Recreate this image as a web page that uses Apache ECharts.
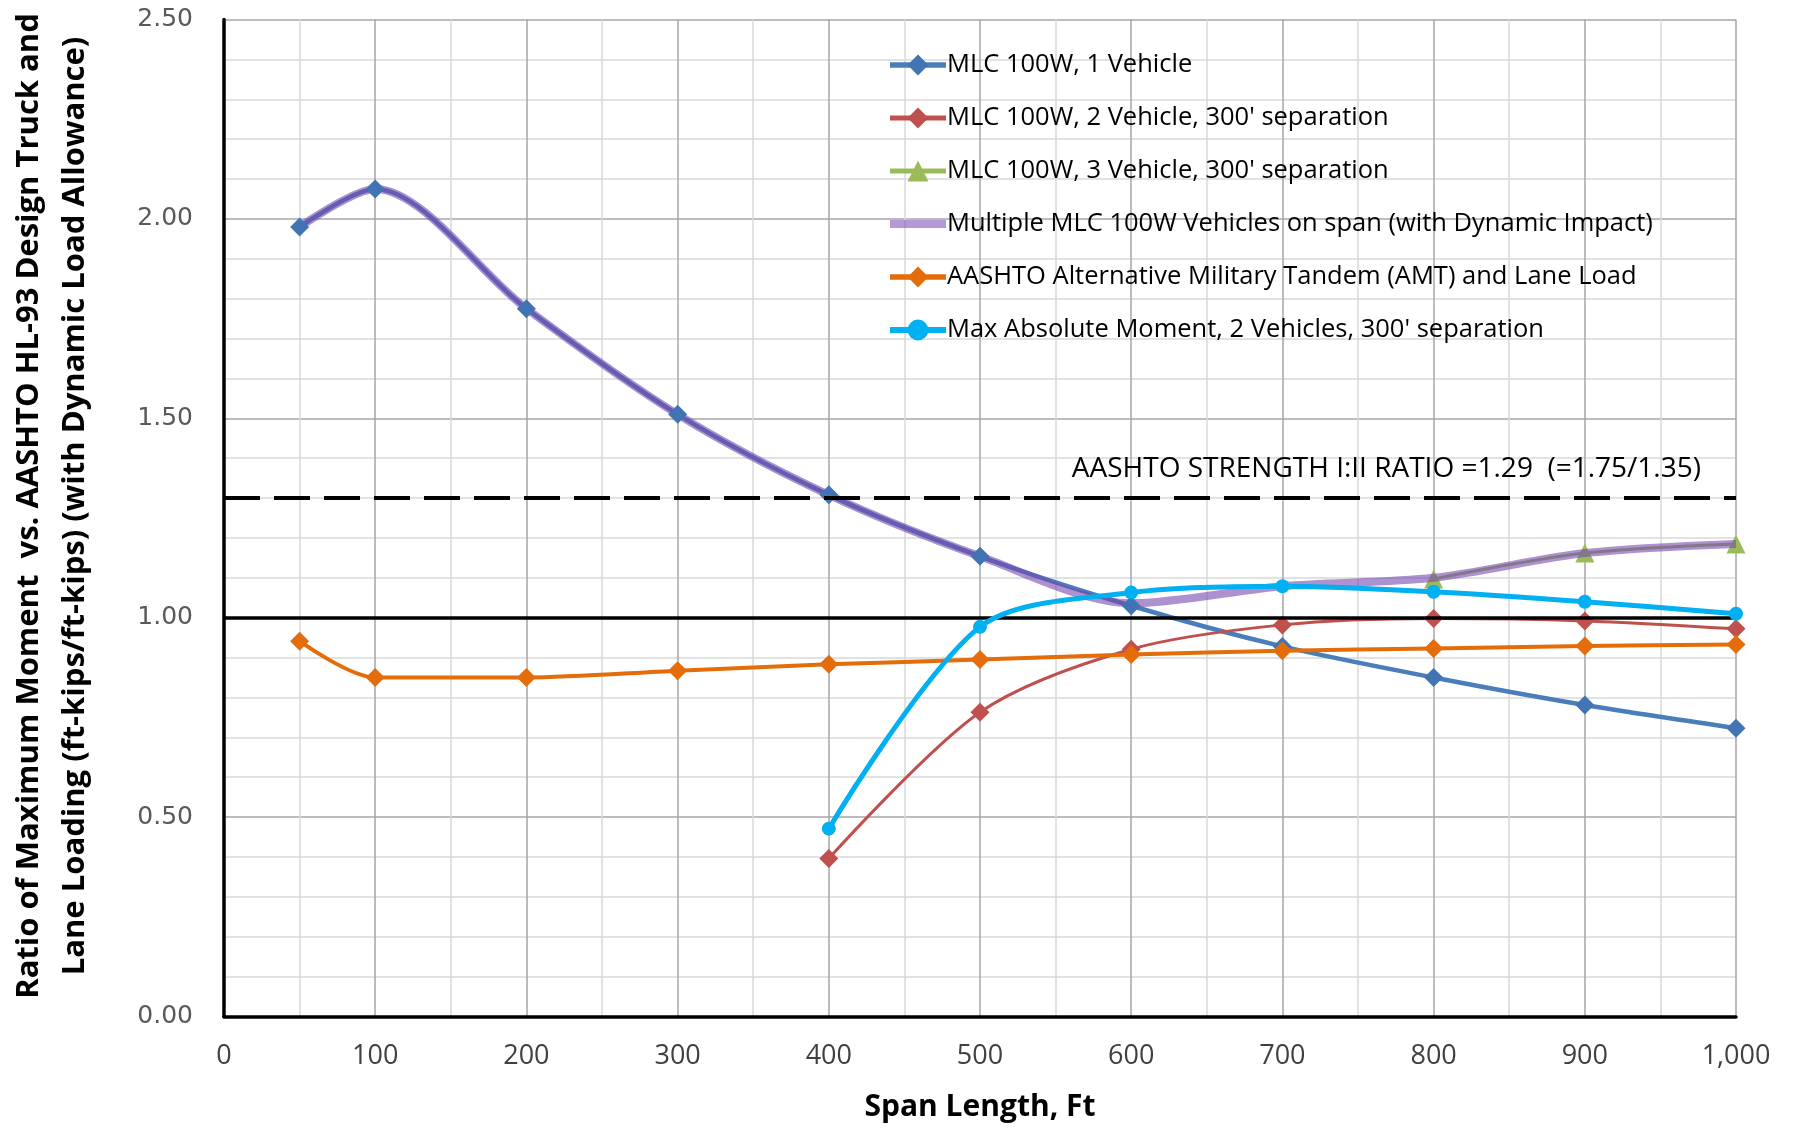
<!DOCTYPE html>
<html>
<head>
<meta charset="utf-8">
<script src="https://cdn.jsdelivr.net/npm/echarts@6/dist/echarts.min.js"></script>
<style>
  html, body { margin: 0; padding: 0; background: #fff; }
  #chart { width: 1793px; height: 1129px; }
</style>
</head>
<body>
<div id="chart"></div>
<script>
// span lengths (ft)
var spans = [50, 100, 200, 300, 400, 500, 600, 700, 800, 900, 1000];
var spans2 = [400, 500, 600, 700, 800, 900, 1000];
var spans3 = [800, 900, 1000];

var mlc1 = [1.98, 2.075, 1.775, 1.51, 1.308, 1.154, 1.03, 0.928, 0.85, 0.781, 0.723];
var mlc2 = [0.396, 0.763, 0.921, 0.982, 0.998, 0.992, 0.972];
var mlc3 = [1.097, 1.162, 1.185];
var multiple = [1.98, 2.075, 1.775, 1.51, 1.308, 1.154, 1.036, 1.079, 1.10, 1.162, 1.185];
var amt = [0.941, 0.85, 0.85, 0.867, 0.883, 0.895, 0.908, 0.917, 0.923, 0.929, 0.933];
var maxAbs = [0.471, 0.977, 1.063, 1.079, 1.065, 1.04, 1.01];

var strengthRatio = 1.2963;
var unity = 1.0;

var names = [
  'MLC 100W, 1 Vehicle',
  "MLC 100W, 2 Vehicle, 300' separation",
  "MLC 100W, 3 Vehicle, 300' separation",
  'Multiple MLC 100W Vehicles on span (with Dynamic Impact)',
  'AASHTO Alternative Military Tandem (AMT) and Lane Load',
  "Max Absolute Moment, 2 Vehicles, 300' separation"
];

function pairs(xs, ys) {
  return xs.map(function (x, i) { return [x, ys[i]]; });
}

var font = 'Open Sans';
var SM = 0.3;

var myChart = echarts.init(document.getElementById('chart'));
var option = {
  animation: false,
  grid: { left: 224, right: 57, top: 19.5, bottom: 112.5, containLabel: false, outerBoundsMode: 'none' },
  legend: {
    orient: 'vertical',
    left: 882,
    top: 46,
    itemWidth: 56,
    itemHeight: 26,
    itemGap: 25,
    textStyle: { fontFamily: font, fontSize: 25.5, color: '#000', lineHeight: 28, padding: [0, 0, 0, -4] },
    data: [
      { name: names[0], lineStyle: { width: 5.5 } },
      { name: names[1], lineStyle: { width: 5 } },
      { name: names[2], lineStyle: { width: 5 } },
      { name: names[3], icon: 'path://M0,0 L56,0 L56,8 L0,8 Z', itemStyle: { color: 'rgba(130,85,185,0.6)' } },
      { name: names[4], lineStyle: { width: 5.5 } },
      { name: names[5], lineStyle: { width: 6 } }
    ]
  },
  xAxis: {
    type: 'value',
    min: 0, max: 1000, interval: 100,
    name: 'Span Length, Ft',
    nameLocation: 'middle',
    nameGap: 76,
    nameTextStyle: { fontFamily: font, fontSize: 30, fontWeight: 'bold', color: '#000' },
    axisLine: { show: true, onZero: false, lineStyle: { color: '#000', width: 3.5 } },
    axisTick: { show: false },
    axisLabel: {
      margin: 26, fontFamily: font, fontSize: 27, color: '#404040',
      formatter: function (v) { return v >= 1000 ? v.toLocaleString('en-US') : String(v); }
    },
    splitLine: { show: true, lineStyle: { color: '#a6a6a6', width: 1.5 } },
    minorTick: { show: false, splitNumber: 2 },
    minorSplitLine: { show: true, lineStyle: { color: '#d9d9d9', width: 1.5 } }
  },
  yAxis: {
    type: 'value',
    min: 0, max: 2.5, interval: 0.5,
    name: 'Ratio of Maximum Moment  vs. AASHTO HL-93 Design Truck and\nLane Loading (ft-kips/ft-kips) (with Dynamic Load Allowance)',
    nameLocation: 'middle',
    nameGap: 126,
    nameRotate: 90,
    nameTextStyle: { fontFamily: font, fontSize: 31, fontWeight: 'bold', color: '#000', lineHeight: 46, padding: [0, 0, 0, 24] },
    axisLine: { show: true, lineStyle: { color: '#000', width: 3.5 } },
    axisTick: { show: false },
    axisLabel: {
      margin: 31, fontFamily: 'DejaVu Sans', fontSize: 25, color: '#595959',
      formatter: function (v) { return v.toFixed(2); }
    },
    splitLine: { show: true, lineStyle: { color: '#a6a6a6', width: 1.5 } },
    minorTick: { show: false, splitNumber: 5 },
    minorSplitLine: { show: true, lineStyle: { color: '#d9d9d9', width: 1.5 } }
  },
  series: [
    {
      name: names[0], type: 'line', smooth: SM, z: 3,
      data: pairs(spans, mlc1),
      symbol: 'diamond', symbolSize: 19,
      lineStyle: { color: '#4a7ebb', width: 4.5 },
      itemStyle: { color: '#4074b2' },
      markLine: {
        silent: true, symbol: 'none', animation: false,
        data: [
          {
            yAxis: strengthRatio,
            lineStyle: { color: '#000', width: 4, type: [36, 14] },
            label: {
              show: true, position: 'insideEndTop',
              formatter: 'AASHTO STRENGTH I:II RATIO =1.29  (=1.75/1.35)',
              fontFamily: font, fontSize: 28, color: '#000',
              padding: [0, 30, 10, 0]
            }
          },
          {
            yAxis: unity,
            lineStyle: { color: '#000', width: 3.5, type: 'solid' },
            label: { show: false }
          }
        ]
      }
    },
    {
      name: names[1], type: 'line', smooth: SM, z: 4,
      data: pairs(spans2, mlc2),
      symbol: 'diamond', symbolSize: 19,
      lineStyle: { color: '#c0504d', width: 3 },
      itemStyle: { color: '#c0504d' }
    },
    {
      name: names[2], type: 'line', smooth: SM, z: 2,
      data: pairs(spans3, mlc3),
      symbol: 'triangle', symbolSize: 19,
      lineStyle: { color: '#9bbb59', width: 3 },
      itemStyle: { color: '#9bbb59' }
    },
    {
      name: names[3], type: 'line', smooth: SM, z: 3,
      data: pairs(spans, multiple),
      symbol: 'none', showSymbol: false,
      lineStyle: { color: 'rgba(120,72,175,0.6)', width: 8 },
      itemStyle: { color: 'rgba(120,72,175,0.6)' }
    },
    {
      name: names[4], type: 'line', smooth: SM, z: 4,
      data: pairs(spans, amt),
      symbol: 'diamond', symbolSize: 19,
      lineStyle: { color: '#e46c0a', width: 4 },
      itemStyle: { color: '#e46c0a' }
    },
    {
      name: names[5], type: 'line', smooth: SM, z: 5,
      data: pairs(spans2, maxAbs),
      symbol: 'circle', symbolSize: 14,
      lineStyle: { color: '#00b0f0', width: 5 },
      itemStyle: { color: '#00b0f0' }
    }
  ]
};
myChart.setOption(option);
</script>
</body>
</html>
